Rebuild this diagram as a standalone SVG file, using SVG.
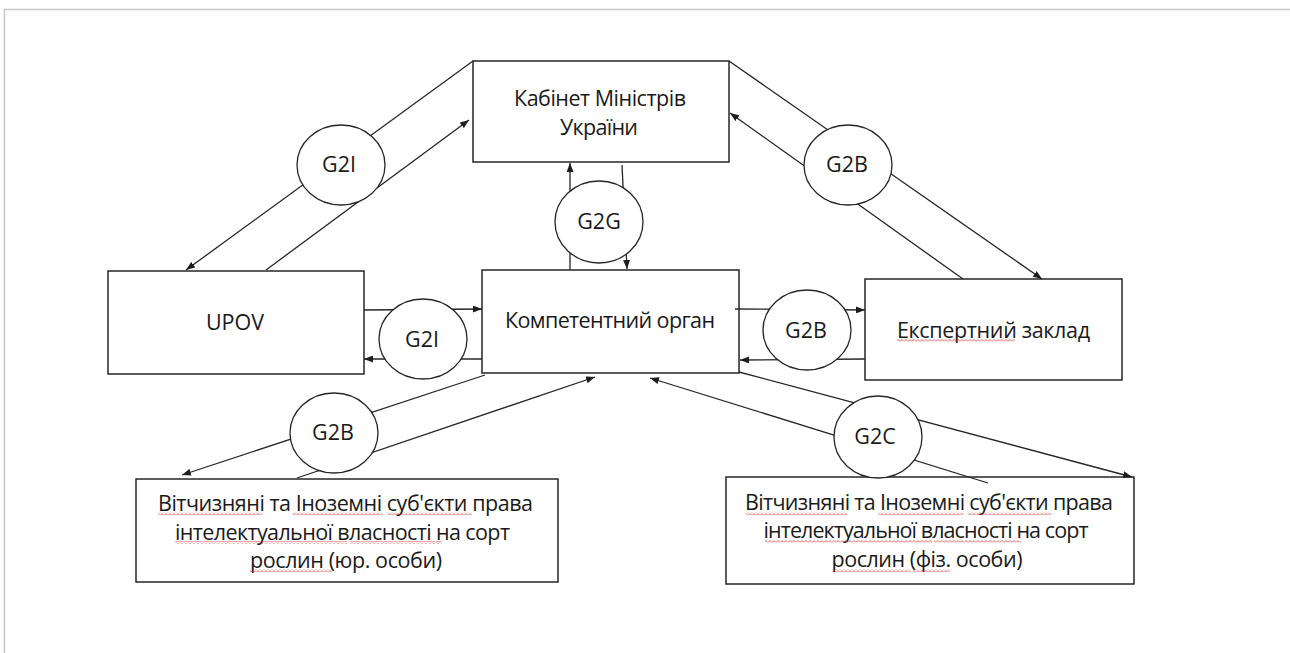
<svg xmlns="http://www.w3.org/2000/svg" width="1290" height="653" viewBox="0 0 1290 653">
<defs>
<marker id="arr" markerUnits="userSpaceOnUse" markerWidth="9" markerHeight="7" refX="9" refY="3.5" orient="auto">
<path d="M0,0 L9,3.5 L0,7 z" fill="#1e1e1e"/>
</marker>
<pattern id="wave" patternUnits="userSpaceOnUse" width="4" height="3">
<path d="M0,2.5 L2,0.5 L4,2.5" fill="none" stroke="#e03030" stroke-width="0.8"/>
</pattern>
<style>
.box{fill:#fff;stroke:#262626;stroke-width:1.5}
.ell{fill:#fff;stroke:#262626;stroke-width:1.3}
.con{fill:none;stroke:#262626;stroke-width:1.3}
.arw{marker-end:url(#arr)}
.t{font-family:"Open Sans","Noto Sans","Liberation Sans",sans-serif;font-size:21.5px;fill:#1a1a1a;text-anchor:middle}
.sq{fill:url(#wave)}
.pg{stroke:#c8c8c8;stroke-width:1.5;fill:none}
</style>
</defs>
<rect width="1290" height="653" fill="#fff"/>
<path class="pg" d="M4.5,653 L4.5,9.5 L1290,9.5"/>

<g id="kabinet">
<rect class="box" x="473" y="61" width="256" height="101"/>
<text class="t" x="600" y="106" textLength="172" lengthAdjust="spacing">Кабінет Міністрів</text>
<text class="t" x="599" y="135" textLength="78" lengthAdjust="spacing">України</text>
</g>
<g id="upov">
<rect class="box" x="108" y="271" width="256" height="103"/>
<text class="t" x="235" y="330">UPOV</text>
</g>
<g id="kompetentnyi">
<rect class="box" x="482" y="270" width="257" height="103"/>
<text class="t" x="610" y="328" textLength="210" lengthAdjust="spacing">Компетентний орган</text>
</g>
<g id="ekspertnyi">
<rect class="box" x="865" y="279" width="257" height="101"/>
<text class="t" x="993.5" y="338" textLength="193" lengthAdjust="spacing">Експертний заклад</text>
<rect class="sq" x="897" y="339" width="118" height="3"/>
</g>
<g id="yur">
<rect class="box" x="136" y="479" width="422" height="103"/>
<text class="t" x="345.5" y="511" textLength="375" lengthAdjust="spacing">Вітчизняні та Іноземні суб'єкти права</text>
<text class="t" x="342.5" y="540" textLength="335" lengthAdjust="spacing">інтелектуальної власності на сорт</text>
<text class="t" x="346" y="568" textLength="192" lengthAdjust="spacing">рослин (юр. особи)</text>
<rect class="sq" x="158" y="512" width="104" height="3"/>
<rect class="sq" x="293" y="512" width="89" height="3"/>
<rect class="sq" x="387" y="512" width="85" height="3"/>
<rect class="sq" x="175" y="541" width="172" height="3"/>
<rect class="sq" x="350" y="541" width="92" height="3"/>
<rect class="sq" x="250" y="569" width="82" height="3"/>
</g>
<g id="fiz">
<rect class="box" x="726" y="477" width="408" height="107"/>
<text class="t" x="929" y="510" textLength="368" lengthAdjust="spacing">Вітчизняні та Іноземні суб'єкти права</text>
<text class="t" x="926" y="538" textLength="325" lengthAdjust="spacing">інтелектуальної власності на сорт</text>
<text class="t" x="927" y="567" textLength="191" lengthAdjust="spacing">рослин (фіз. особи)</text>
<rect class="sq" x="746" y="512" width="101" height="3"/>
<rect class="sq" x="878" y="512" width="85" height="3"/>
<rect class="sq" x="968" y="512" width="83" height="3"/>
<rect class="sq" x="765" y="540" width="167" height="3"/>
<rect class="sq" x="934" y="540" width="87" height="3"/>
<rect class="sq" x="832" y="569" width="78" height="3"/>
<rect class="sq" x="913" y="569" width="37" height="3"/>
</g>

<g id="connectors">
<line class="con arw" x1="473" y1="61" x2="186" y2="270"/>
<line class="con arw" x1="266" y1="270" x2="469" y2="120"/>
<line class="con arw" x1="570" y1="270" x2="570" y2="163"/>
<line class="con arw" x1="622" y1="165" x2="627" y2="269"/>
<line class="con arw" x1="729" y1="61" x2="1042" y2="279"/>
<line class="con arw" x1="963" y1="279" x2="730" y2="113"/>
<line class="con arw" x1="364" y1="310" x2="482" y2="309"/>
<line class="con arw" x1="482" y1="359" x2="364" y2="359"/>
<line class="con arw" x1="735" y1="309" x2="865" y2="310"/>
<line class="con arw" x1="865" y1="359" x2="740" y2="360"/>
<line class="con arw" x1="485" y1="375" x2="182" y2="475"/>
<line class="con arw" x1="297" y1="478" x2="595" y2="377"/>
<line class="con arw" x1="739" y1="372" x2="1132" y2="477"/>
<line class="con arw" x1="988" y1="483" x2="650" y2="378"/>
</g>

<g id="g2i-top">
<ellipse class="ell" cx="341" cy="165" rx="44" ry="40"/>
<text class="t" x="339" y="172">G2I</text>
</g>
<g id="g2g">
<ellipse class="ell" cx="599" cy="222" rx="44" ry="41"/>
<text class="t" x="599" y="229">G2G</text>
</g>
<g id="g2b-top">
<ellipse class="ell" cx="848" cy="165" rx="44" ry="40"/>
<text class="t" x="847" y="172">G2B</text>
</g>
<g id="g2i-mid">
<ellipse class="ell" cx="423" cy="339" rx="44" ry="40"/>
<text class="t" x="422" y="347">G2I</text>
</g>
<g id="g2b-mid">
<ellipse class="ell" cx="807" cy="330" rx="44" ry="40"/>
<text class="t" x="806" y="338">G2B</text>
</g>
<g id="g2b-low">
<ellipse class="ell" cx="334" cy="433" rx="44" ry="40"/>
<text class="t" x="333" y="440">G2B</text>
</g>
<g id="g2c">
<ellipse class="ell" cx="878" cy="437" rx="44" ry="41"/>
<text class="t" x="875" y="444">G2C</text>
</g>
</svg>
